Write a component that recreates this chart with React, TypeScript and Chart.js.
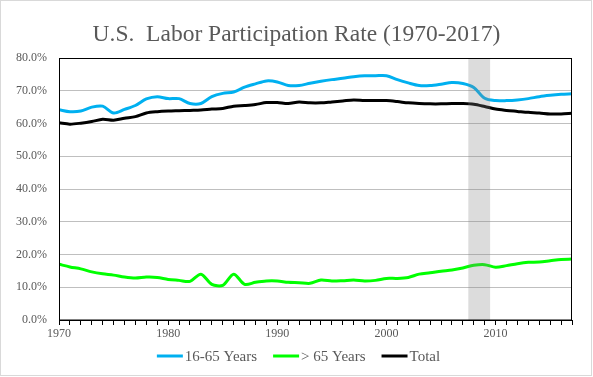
import React, { useEffect, useRef } from "react";
import { Chart, registerables } from "chart.js";

Chart.register(...registerables);

const years = [
  1970, 1971, 1972, 1973, 1974, 1975, 1976, 1977, 1978, 1979,
  1980, 1981, 1982, 1983, 1984, 1985, 1986, 1987, 1988, 1989,
  1990, 1991, 1992, 1993, 1994, 1995, 1996, 1997, 1998, 1999,
  2000, 2001, 2002, 2003, 2004, 2005, 2006, 2007, 2008, 2009,
  2010, 2011, 2012, 2013, 2014, 2015, 2016, 2017,
];

const ages16to65 = [
  64.2, 63.6, 63.8, 65.0, 65.3, 63.2, 64.3, 65.5, 67.5, 68.2,
  67.6, 67.6, 66.1, 66.1, 68.2, 69.2, 69.6, 71.1, 72.1, 73.0,
  72.7, 71.6, 71.6, 72.3, 72.9, 73.4, 73.8, 74.3, 74.6, 74.6,
  74.6, 73.4, 72.4, 71.6, 71.6, 72.0, 72.5, 72.2, 71.0, 67.7,
  67.0, 67.0, 67.2, 67.6, 68.2, 68.6, 68.9, 69.1,
];

const over65 = [
  17.0, 16.2, 15.6, 14.7, 14.1, 13.7, 13.1, 12.8, 13.1, 13.0,
  12.4, 12.1, 11.8, 14.0, 10.9, 10.6, 14.0, 10.9, 11.5, 11.9,
  11.9, 11.5, 11.4, 11.2, 12.2, 11.9, 12.0, 12.2, 11.9, 12.1,
  12.7, 12.7, 13.0, 14.0, 14.4, 14.9, 15.3, 15.9, 16.7, 16.9,
  16.1, 16.6, 17.2, 17.6, 17.7, 18.1, 18.5, 18.6,
];

const total = [
  60.2, 59.8, 60.1, 60.6, 61.3, 61.0, 61.6, 62.1, 63.2, 63.6,
  63.8, 63.9, 64.0, 64.1, 64.4, 64.6, 65.3, 65.5, 65.8, 66.4,
  66.4, 66.1, 66.6, 66.3, 66.3, 66.6, 66.9, 67.2, 67.0, 67.0,
  67.0, 66.7, 66.3, 66.1, 66.0, 66.0, 66.1, 66.1, 65.9, 65.2,
  64.4, 64.0, 63.7, 63.4, 63.2, 62.9, 62.9, 63.1,
];

const recessionYears = [2008, 2009];

const seriesNames = ["16-65 Years", "> 65 Years", "Total"];
const seriesColors = ["#00b0f0", "#00ff00", "#000000"];
const titleText = "U.S.  Labor Participation Rate (1970-2017)";

const FONT = '"Liberation Serif", "Times New Roman", serif';
const TEXT_COLOR = "#595959";

export default function App() {
  const ref = useRef<HTMLCanvasElement | null>(null);

  useEffect(() => {
    const canvas = ref.current;
    if (!canvas) return;

    const toPoints = (vals: number[]) => years.map((yr, i) => ({ x: yr, y: vals[i] }));
    const seriesValues = [ages16to65, over65, total];

    const bgPlugin = {
      id: "bg",
      beforeDraw(chart: any) {
        const ctx = chart.ctx;
        ctx.save();
        ctx.fillStyle = "#ffffff";
        ctx.fillRect(0, 0, chart.width, chart.height);
        ctx.restore();
      },
    };

    const shadePlugin = {
      id: "shade",
      afterDatasetsDraw(chart: any) {
        const { ctx, chartArea, scales } = chart;
        const x0 = scales.x.getPixelForValue(Math.min(...recessionYears) - 0.5);
        const x1 = scales.x.getPixelForValue(Math.max(...recessionYears) + 0.5);
        ctx.save();
        ctx.fillStyle = "rgba(128,128,128,0.28)";
        ctx.fillRect(x0, chartArea.top, x1 - x0, chartArea.bottom - chartArea.top);
        ctx.restore();
      },
    };

    const decorPlugin = {
      id: "decor",
      afterDraw(chart: any) {
        const { ctx, chartArea } = chart;
        ctx.save();
        // plot frame
        ctx.strokeStyle = "#000000";
        ctx.lineWidth = 1;
        ctx.strokeRect(
          Math.round(chartArea.left) + 0.5,
          Math.round(chartArea.top) + 0.5,
          Math.round(chartArea.right - chartArea.left) - 1,
          Math.round(chartArea.bottom - chartArea.top) - 0.5
        );
        // outer border
        ctx.strokeStyle = "#d9d9d9";
        ctx.strokeRect(0.5, 0.5, 591, 375);
        // title
        ctx.fillStyle = TEXT_COLOR;
        ctx.font = `23.5px ${FONT}`;
        ctx.textAlign = "center";
        ctx.textBaseline = "alphabetic";
        ctx.fillText(titleText, 296.5, 41);
        // legend
        ctx.font = `15px ${FONT}`;
        const sample = 26;
        const gap = 2;
        const spacing = 16;
        const widths = seriesNames.map((n) => ctx.measureText(n).width);
        const totalW =
          widths.reduce((a, w) => a + sample + gap + w, 0) + spacing * (seriesNames.length - 1);
        let x = 298.5 - totalW / 2;
        const ly = 356;
        ctx.textAlign = "left";
        seriesNames.forEach((name, i) => {
          ctx.strokeStyle = seriesColors[i];
          ctx.lineWidth = 3;
          ctx.beginPath();
          ctx.moveTo(x, ly);
          ctx.lineTo(x + sample, ly);
          ctx.stroke();
          ctx.fillStyle = TEXT_COLOR;
          ctx.fillText(name, x + sample + gap, 361);
          x += sample + gap + widths[i] + spacing;
        });
        ctx.restore();
      },
    };

    const chart = new Chart(canvas, {
      type: "line",
      data: {
        datasets: seriesNames.map((name, i) => ({
          label: name,
          data: toPoints(seriesValues[i]),
          borderColor: seriesColors[i],
          backgroundColor: seriesColors[i],
          borderWidth: 3,
          pointRadius: 0,
          tension: 0.3,
          fill: false,
        })),
      },
      options: {
        animation: false,
        responsive: false,
        devicePixelRatio: 1,
        layout: { padding: { top: 58, right: 21, bottom: 27, left: 0 } },
        plugins: {
          legend: { display: false },
          title: { display: false },
          tooltip: { enabled: false },
        },
        scales: {
          x: {
            type: "linear",
            min: 1970,
            max: 2017,
            afterFit: (s: any) => {
              s.height = 30;
            },
            grid: {
              drawOnChartArea: false,
              drawTicks: true,
              tickLength: 5,
              color: "#000000",
            },
            border: { display: true, color: "#000000", width: 1 },
            ticks: {
              stepSize: 1,
              autoSkip: false,
              maxRotation: 0,
              padding: 2,
              color: TEXT_COLOR,
              font: { family: FONT, size: 12 },
              callback: (v: any) => (Number(v) % 10 === 0 ? String(v) : ""),
            },
          },
          y: {
            min: 0,
            max: 80,
            afterFit: (s: any) => {
              s.width = 59;
            },
            grid: { color: "#bfbfbf", drawTicks: false },
            border: { display: true, color: "#000000", width: 1 },
            ticks: {
              stepSize: 10,
              padding: 12,
              color: TEXT_COLOR,
              font: { family: FONT, size: 12 },
              callback: (v: any) => Number(v).toFixed(1) + "%",
            },
          },
        },
      },
      plugins: [bgPlugin, shadePlugin, decorPlugin],
    } as any);

    return () => chart.destroy();
  }, []);

  return (
    <div style={{ position: "absolute", left: 0, top: 0, width: 593, height: 377 }}>
      <canvas ref={ref} width={593} height={377} style={{ width: 593, height: 377, display: "block" }} />
    </div>
  );
}
